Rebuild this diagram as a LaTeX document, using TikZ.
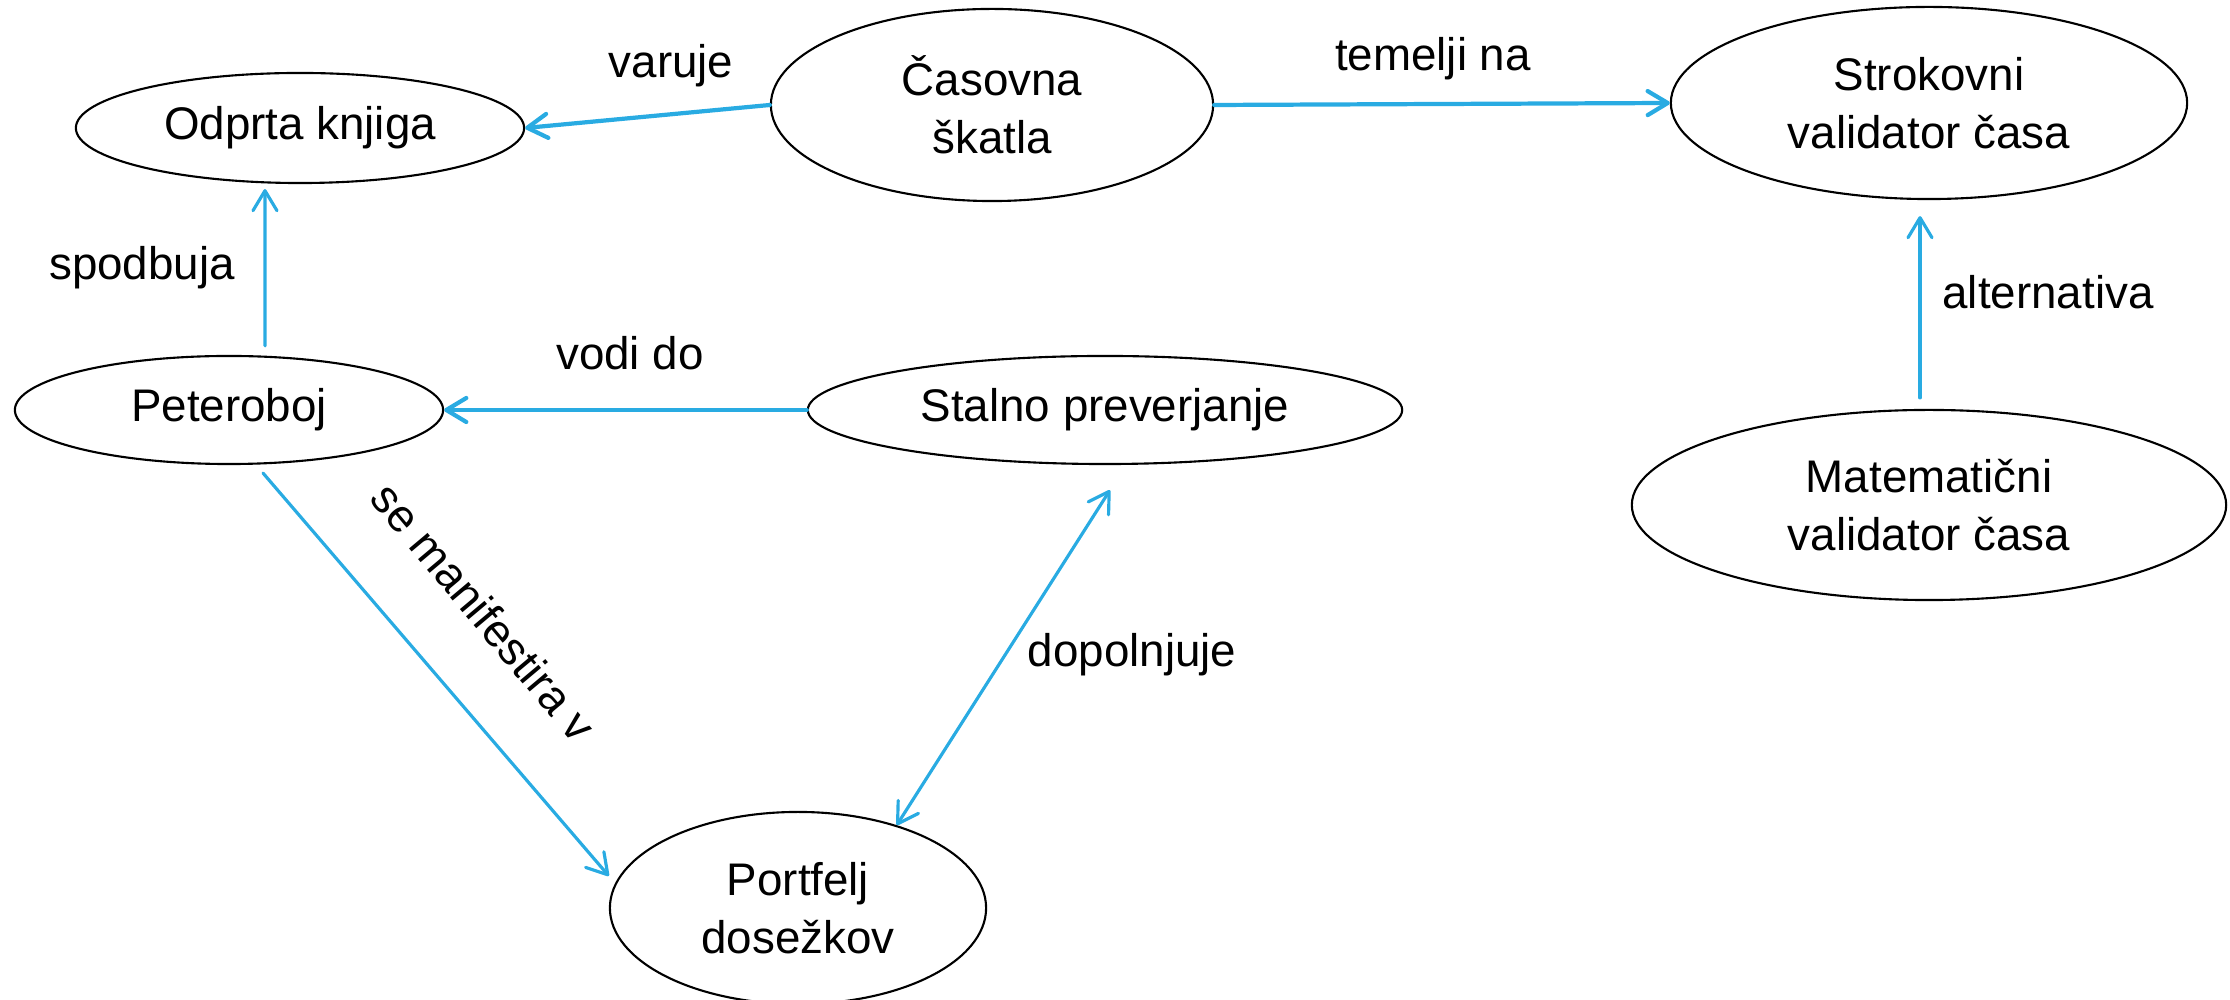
\documentclass[tikz,border=0pt]{standalone}
\usepackage{fontspec}
\setmainfont{Liberation Sans}
\usepackage{tikz}
\usetikzlibrary{shapes.geometric, arrows.meta, positioning, calc}
\definecolor{linkblue}{RGB}{41, 171, 226}

\begin{document}
\begin{tikzpicture}[
    x=0.01cm, y=0.01cm,
    font=\fontsize{13}{16.5}\selectfont,
    concept/.style={ellipse, draw, line width=0.6pt, inner sep=0pt, align=center},
    arrow/.style={->, >={Straight Barb[length=2mm, width=2.4mm, round]}, line width=0.9pt, line cap=round, draw=linkblue},
    heavy/.style={line width=1.2pt},
    relation/.style={anchor=base}
]
\useasboundingbox (0,0) rectangle (2230,1000);

\node[concept, minimum width=4.48cm, minimum height=1.1cm] (odp) at (300,872) {Odprta knjiga};
\node[concept, minimum width=4.42cm, minimum height=1.92cm] (cas) at (992,895) {Časovna\\ škatla};
\node[concept, minimum width=5.16cm, minimum height=1.92cm] (str) at (1929,897) {Strokovni\\ validator časa};
\node[concept, minimum width=4.28cm, minimum height=1.08cm] (pet) at (229,590) {Peteroboj};
\node[concept, minimum width=5.94cm, minimum height=1.08cm] (sta) at (1105,590) {Stalno preverjanje};
\node[concept, minimum width=5.94cm, minimum height=1.9cm] (mat) at (1929,495) {Matematični\\ validator časa};
\node[concept, minimum width=3.76cm, minimum height=1.92cm] (por) at (798,92) {Portfelj\\ dosežkov};

\draw[arrow, heavy] (cas.west) -- (odp.east);
\draw[arrow, heavy] (cas.east) -- (str.west);
\draw[arrow] ([xshift=0.36cm, yshift=0.09cm]pet.north) -- ([xshift=-0.35cm, yshift=-0.05cm]odp.south);
\draw[arrow, heavy] (sta.west) -- (pet.east);
\draw[arrow] ([xshift=0.34cm, yshift=-0.08cm]pet.south) -- ([yshift=0.32cm]por.west);
\draw[arrow, <->] ([xshift=0.05cm, yshift=-0.25cm]sta.south) -- (por.40);
\draw[arrow] ([xshift=-0.09cm, yshift=0.11cm]mat.north) -- ([xshift=-0.09cm, yshift=-0.16cm]str.south);

\node[relation] (varuje) at (671,922) {varuje};
\node[relation] (temelji) at (1433,929) {temelji na};
\node[relation] (spodbuja) at (142,720) {spodbuja};
\node[relation] (vodi) at (630,630) {vodi do};
\node[relation] (dopolnjuje) at (1132,333) {dopolnjuje};
\node[relation] (alternativa) at (2048,691) {alternativa};
\node[rotate=-50] (manifestira) at (484,388) {se manifestira v};

\end{tikzpicture}
\end{document}
